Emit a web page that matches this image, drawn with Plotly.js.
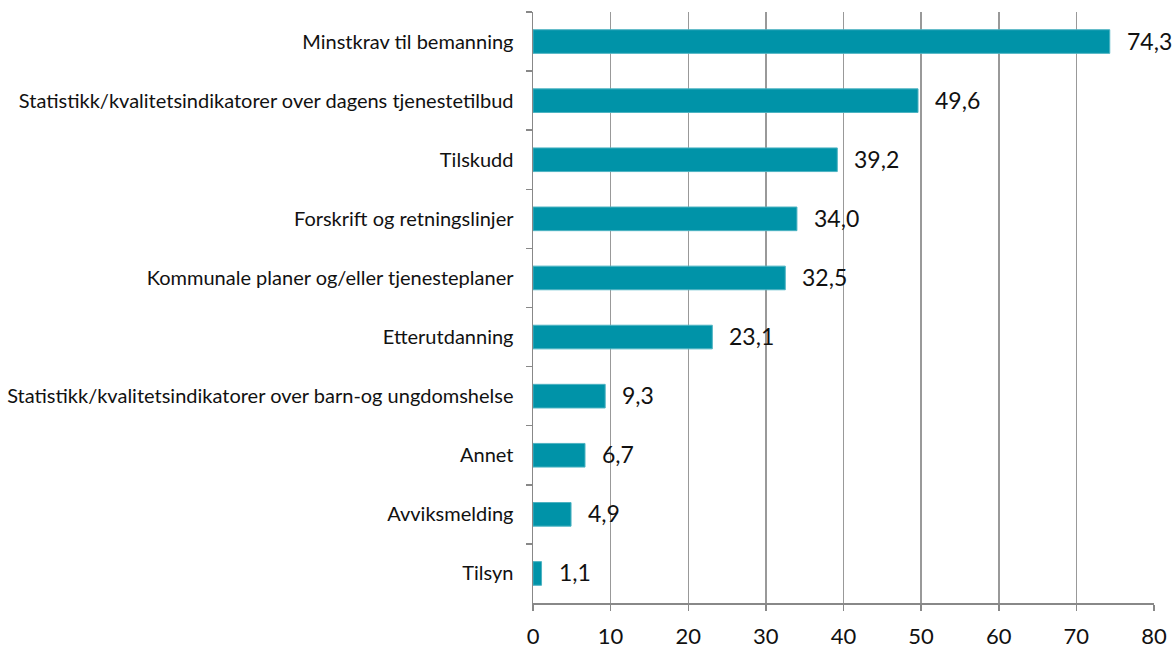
<!DOCTYPE html>
<html>
<head>
<meta charset="utf-8">
<script src="https://cdn.plot.ly/plotly-3.0.1.min.js"></script>
<style>html,body{margin:0;padding:0;background:#fff;}#chart{width:1173px;height:649px;}</style>
</head>
<body>
<div id="chart"></div>
<script>
const categories = [
  "Minstkrav til bemanning",
  "Statistikk/kvalitetsindikatorer over dagens tjenestetilbud",
  "Tilskudd",
  "Forskrift og retningslinjer",
  "Kommunale planer og/eller tjenesteplaner",
  "Etterutdanning",
  "Statistikk/kvalitetsindikatorer over barn-og ungdomshelse",
  "Annet",
  "Avviksmelding",
  "Tilsyn"
];
const values = [74.3, 49.6, 39.2, 34.0, 32.5, 23.1, 9.3, 6.7, 4.9, 1.1];
const valueLabels = values.map(v => v.toFixed(1).replace('.', ','));
const xTicks = [0, 10, 20, 30, 40, 50, 60, 70, 80];

const trace = {
  type: 'bar',
  orientation: 'h',
  x: values,
  y: categories,
  marker: {color: '#0093A8', line: {color: '#4DB3C2', width: 1}},
  hoverinfo: 'none'
};

const annotations = values.map((v, i) => ({
  x: v, y: categories[i], xref: 'x', yref: 'y',
  text: valueLabels[i], showarrow: false,
  xanchor: 'left', yanchor: 'middle', xshift: 15, yshift: 1,
  font: {family: 'Lato, sans-serif', size: 23, color: '#111'}
}));

const layout = {
  width: 1173, height: 649,
  margin: {l: 533, r: 19, t: 12, b: 46, pad: 0},
  paper_bgcolor: '#fff', plot_bgcolor: '#fff',
  showlegend: false,
  bargap: 0.6,
  xaxis: {
    range: [0, 80], tickvals: xTicks, ticktext: xTicks.map(String),
    showgrid: true, gridcolor: '#999', gridwidth: 1.5,
    showline: true, linecolor: '#888', linewidth: 1.5,
    ticks: 'outside', ticklen: 6, tickcolor: '#888', tickwidth: 1.5,
    zeroline: false,
    ticklabelstandoff: 7,
    tickfont: {family: 'Lato, sans-serif', size: 22, color: '#111'},
    fixedrange: true
  },
  yaxis: {
    type: 'category', autorange: 'reversed',
    showgrid: false, showline: true, linecolor: '#888', linewidth: 1.5,
    ticks: 'outside', ticklen: 6, tickcolor: '#888', tickwidth: 1.5,
    tickson: 'boundaries',
    ticklabelstandoff: 14,
    tickfont: {family: 'Lato, sans-serif', size: 20, color: '#111'},
    fixedrange: true
  },
  annotations: annotations
};

Plotly.newPlot('chart', [trace], layout, {displayModeBar: false, staticPlot: true});
</script>
</body>
</html>
